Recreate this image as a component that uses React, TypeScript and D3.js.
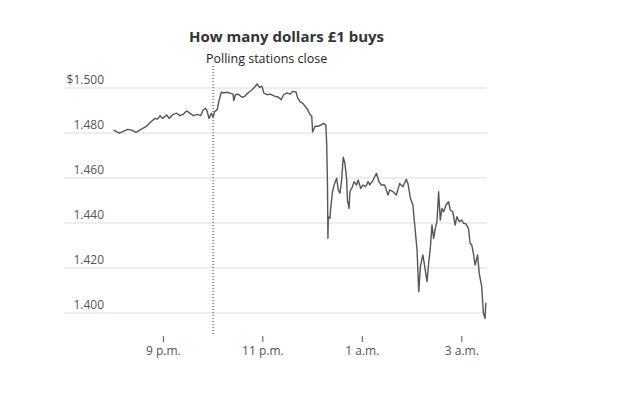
import * as d3 from "d3";
import { useMemo } from "react";

// minutes after 8 p.m. (polls close at 10 p.m. = 120)
const minutes = [
  0, 7, 11, 17, 22, 27, 33, 39, 45, 50, 53, 56, 59, 64, 67, 72, 76, 80, 84, 88,
  92, 96, 101, 105, 108, 111, 113, 115, 118, 120, 122, 125, 127, 130, 132, 136, 140, 144, 145, 147,
  150, 155, 158, 162, 167, 170, 173, 176, 179, 181, 185, 189, 195, 199, 202, 205, 209, 213, 216, 220,
  222, 225, 228, 231, 234, 237, 239, 240, 243, 247, 251, 253, 256, 257, 258, 258.5, 259, 261, 262, 264,
  266, 269, 271, 273, 275, 277, 279, 281, 282, 284, 285, 288, 290, 293, 295, 298, 301, 304, 307, 309,
  313, 317, 320, 323, 327, 331, 333, 337, 341, 345, 349, 353, 355, 358, 361, 363, 366, 368, 370, 373,
  375, 378, 380, 382, 384, 386, 388, 390, 392, 394, 396, 398, 401, 404, 406, 409, 412, 414, 417, 420,
  422, 425, 428, 430, 432, 434, 436, 439, 441, 444, 446, 448, 449,
];

// dollars per pound
const rates = [
  1.4813, 1.4799, 1.4806, 1.4816, 1.4813, 1.4803, 1.4816, 1.4828, 1.485, 1.4865, 1.4862, 1.4877, 1.4865, 1.488, 1.4865, 1.4883, 1.4888, 1.4877, 1.4883, 1.4898,
  1.4888, 1.4877, 1.4883, 1.4877, 1.4902, 1.491, 1.4895, 1.4865, 1.4888, 1.487, 1.4896, 1.4904, 1.4941, 1.4982, 1.4978, 1.4981, 1.4978, 1.4973, 1.4944, 1.497,
  1.4973, 1.4959, 1.4963, 1.4978, 1.4992, 1.5003, 1.5018, 1.5003, 1.5008, 1.4978, 1.497, 1.4973, 1.4963, 1.4959, 1.4948, 1.497, 1.4978, 1.4973, 1.4985, 1.4982,
  1.4956, 1.4938, 1.4933, 1.4919, 1.4904, 1.4881, 1.4874, 1.4804, 1.483, 1.483, 1.4837, 1.4843, 1.4836, 1.4754, 1.4561, 1.4332, 1.4428, 1.4421, 1.4472, 1.4539,
  1.4569, 1.4599, 1.4547, 1.4532, 1.4591, 1.4692, 1.4665, 1.4599, 1.4502, 1.4465, 1.4539, 1.4561, 1.4584, 1.4569, 1.4591, 1.4554, 1.4569, 1.4561, 1.4584, 1.4569,
  1.4591, 1.4621, 1.4584, 1.4569, 1.4569, 1.4524, 1.4547, 1.4539, 1.4524, 1.4576, 1.4561, 1.4594, 1.4576, 1.451, 1.448, 1.4399, 1.428, 1.4095, 1.4206, 1.4258,
  1.4213, 1.4139, 1.4221, 1.4288, 1.4391, 1.4332, 1.4376, 1.4406, 1.4539, 1.4413, 1.4465, 1.445, 1.448, 1.4495, 1.4458, 1.445, 1.4391, 1.4428, 1.4406, 1.4413,
  1.4399, 1.4396, 1.4376, 1.431, 1.4302, 1.4265, 1.4213, 1.4258, 1.4176, 1.4117, 1.3999, 1.3976, 1.4046,
];

const yTicks = [1.4, 1.42, 1.44, 1.46, 1.48, 1.5];
const xTicks = [60, 180, 300, 420];
const xTickLabels = ["9 p.m.", "11 p.m.", "1 a.m.", "3 a.m."];
const pollsClose = 120;

const title = "How many dollars £1 buys";
const annotation = "Polling stations close";

const width = 630;
const height = 396;
const font = "'Open Sans', 'Noto Sans', sans-serif";

const App = () => {
  const x = useMemo(() => d3.scaleLinear().domain([0, 450]).range([113.6, 486.7]), []);
  const y = useMemo(() => d3.scaleLinear().domain([1.4, 1.5]).range([313, 88]), []);

  const path = d3
    .line<number>()
    .x((d, i) => x(minutes[i]))
    .y((d) => y(d))(rates);

  return (
    <svg
      width={width}
      height={height}
      style={{ position: "absolute", left: 0, top: 0, background: "#fff" }}
      fontFamily={font}
    >
      <text x={286.5} y={41.5} textAnchor="middle" fontSize={15} fontWeight="bold" fill="#333">
        {title}
      </text>

      {yTicks.map((t, i) => (
        <g key={t}>
          <line x1={64} x2={487} y1={y(t)} y2={y(t)} stroke="#dcdcdc" strokeWidth={1} />
          <text x={104} y={y(t) - 4} textAnchor="end" fontSize={12} fill="#555">
            {(i === yTicks.length - 1 ? "$" : "") + d3.format(".3f")(t)}
          </text>
        </g>
      ))}

      <line
        x1={x(pollsClose)}
        x2={x(pollsClose)}
        y1={66}
        y2={334}
        stroke="#333"
        strokeWidth={1}
        strokeDasharray="1,2"
      />
      <text x={206} y={62.5} fontSize={12.5} fill="#222">
        {annotation}
      </text>

      {xTicks.map((t, i) => (
        <g key={t} transform={`translate(${x(t)},0)`}>
          <line y1={336} y2={342} stroke="#555" />
          <text y={355} textAnchor="middle" fontSize={12} fill="#555">
            {xTickLabels[i]}
          </text>
        </g>
      ))}

      <path d={path ?? ""} fill="none" stroke="#555" strokeWidth={1.4} strokeLinejoin="round" />
    </svg>
  );
};

export default App;
